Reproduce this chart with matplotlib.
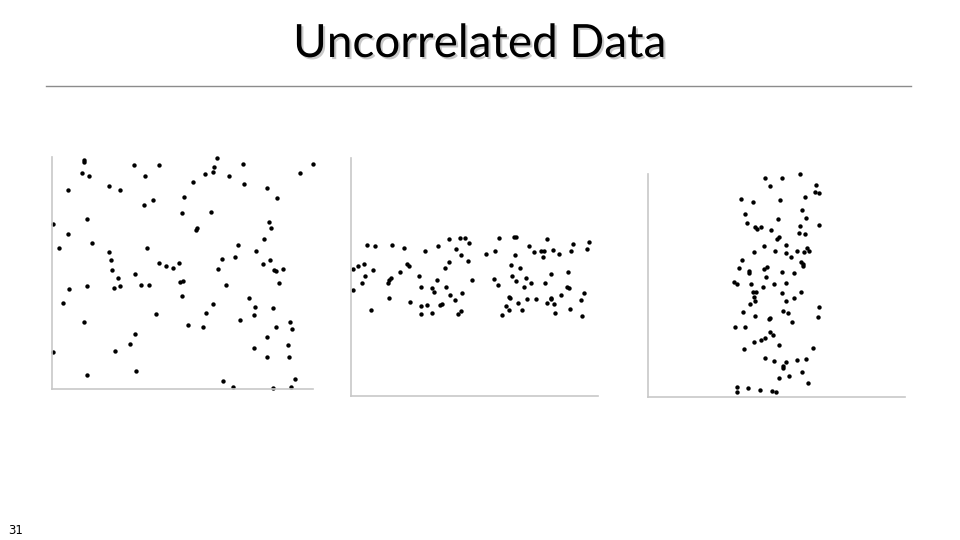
import matplotlib
matplotlib.use("Agg")
import matplotlib.pyplot as plt
from matplotlib.lines import Line2D
import matplotlib.patheffects as pe

title = "Uncorrelated Data"
page_number = "31"

# Panel 1: widely scattered
x1 = [32, 32, 81.7, 107.3, 30, 37.3, 92.7, 15.7, 57, 67.7, 132, 101.3, 91.7, 129.7, 35, 0.7,
      16.3, 40, 7.3, 95, 56.7, 59.3, 107.3, 113.7, 120.7, 127, 59.7, 82.7, 65.7, 128, 131,
      17.3, 35.3, 62.3, 67.7, 88.7, 96.7, 130, 11, 104, 32, 83, 78.3, 0.7, 63.3, 84, 35.3,
      165, 191.3, 260.7, 161.7, 161, 153.3, 177, 247.7, 140.7, 192, 214.7, 225.3, 158.7,
      217.3, 145, 144.3, 219.3, 211.7, 186, 203.7, 170, 183, 218.3, 211.3, 166, 222, 224,
      231, 227.3, 173.7, 196.7, 161.3, 203.3, 221.3, 153.7, 202, 188, 135.7, 151.3, 224,
      238, 240, 215, 235.7, 202, 214.7, 237, 243.3, 171, 181, 221.3, 239.3]
y1 = [229, 227, 224, 223.7, 216.3, 212.7, 212.7, 198.7, 203.3, 199.3, 192.3, 188.7, 183.7,
      175.7, 170.3, 165, 154.7, 145.7, 140.7, 141, 136.7, 129, 125.7, 123.3, 121.3, 126,
      118.7, 115.3, 111, 107, 108, 100, 103, 100.7, 103, 103.7, 103.7, 93, 86.3, 75.3, 67,
      54.7, 45, 36.7, 38.3, 18.3, 14,
      230.7, 225.3, 225.3, 222, 217, 215.3, 213.3, 216.3, 207, 205.3, 200.7, 191.3, 177,
      167.3, 161, 159, 160.7, 150.3, 144, 137.7, 130, 132, 129, 125, 119.7, 119.3, 118,
      119.7, 106.3, 104, 91.3, 84.7, 82, 80.7, 76, 73.7, 69.3, 63.7, 62.3, 62,
      66.7, 60.3, 52, 43.7, 41.3, 32.3, 31.7, 9.7, 8.3, 1.7, 1.3, 1.7]

# Panel 2: wide in x, narrow band in y
x2 = [16.3, 24.3, 40.7, 52.7, 2, 6.7, 13, 14.3, 22.3, 10.7, 2.3, 19.7, 37, 38.3, 39.7, 38.3,
      48.7, 56.3, 57.7, 58.7, 68, 70, 74, 69.7, 69.7, 76.3, 80.7, 80.7, 82.7, 86.3, 86.7,
      89, 91, 93.7, 95.3, 97.7, 98, 99, 104, 105, 108.7, 113.7, 109.7, 110.7, 107.3, 110,
      117, 118.3, 121,
      147.7, 163.3, 165, 195.7, 238, 236, 221.7, 220, 135, 143.7, 164.3, 177.7, 183.3, 190,
      193, 191.7, 202, 208, 159.7, 169, 161.3, 165.3, 175.3, 180, 173.3, 200, 194, 217,
      142.7, 146.7, 216.3, 218.3, 209.7, 233.3, 158, 159, 175.7, 184.7, 199.7, 200.3,
      195.7, 203.3, 167.3, 154.7, 157.7, 171.3, 230, 219, 203.7, 150.7, 230.7]
y2 = [151, 150, 151.3, 148, 127, 130.3, 132.3, 120.3, 125.7, 112.7, 105.7, 85.7, 113.3, 116,
      118, 98.3, 123.7, 131.7, 130, 93.7, 120, 109.3, 145.3, 89.7, 82, 91, 83, 107.7, 103.7,
      116.3, 149.7, 91.3, 92, 127.7, 109, 133.7, 157, 101.3, 95.7, 147.3, 158.3, 157.7,
      141.3, 102.7, 82.3, 85.3, 135.3, 152.7, 116.3,
      158, 159, 158.7, 157.3, 153.7, 147, 151.7, 144.7, 142, 144.7, 140.7, 149.7, 143.7,
      145.3, 145, 139, 146, 141.7, 131.3, 128, 119.7, 115, 118.3, 113, 109.3, 121.7, 113.3,
      123.7, 116.7, 111, 108.7, 107.7, 101, 103, 99.3, 98, 96.7, 97.3, 98.3, 97, 93, 91.7,
      92.7, 90.3, 86.3, 86.3, 95.7, 87, 83.3, 81, 80.3]

# Panel 3: narrow band in x, tall in y
x3 = [117, 122, 93, 105.3, 97, 98.7, 106.7, 109.3, 113.3, 122.7, 115.7, 105.7, 93.7, 90.7,
      101, 101.3, 116.3, 119.3, 118, 86, 89.3, 102.7, 115, 125.7, 104.7, 107.7, 106.3,
      106.7, 102.3, 94.7, 107.3, 120.7, 122, 87, 97.3, 122.3, 124.7, 113, 116.7, 105.7,
      95.7, 117, 126.3, 88.7, 88.7, 100.3, 112.3, 123.7,
      151.7, 134.3, 168.3, 166.7, 170.7, 156.7, 132, 154, 129.7, 158, 152.3, 170.7, 150.7,
      156.7, 128.7, 131, 138, 127.3, 138.3, 142.7, 148.7, 156.3, 159.3, 161.3, 153.3, 155.3,
      154.7, 134.3, 146, 137.7, 133.7, 153.3, 145.7, 138.3, 171, 169.7, 134.7, 140, 143.7,
      130.7, 164.7, 138.3, 134.7, 134.7, 149, 158.3, 153.7, 131.3, 141.3, 159.7, 128.3]
y3 = [219, 211, 197.7, 195, 182.7, 174.3, 170.3, 168, 170, 167.3, 151.3, 144.7, 137.3, 129,
      126, 123.7, 128.3, 130.3, 120, 115, 112.7, 113.3, 109.7, 112.7, 105, 104.7, 100, 96,
      93, 84.7, 81.3, 78, 79.3, 69.7, 70.3, 65.3, 62.3, 57.3, 59.3, 55, 48.3, 38.7, 36, 10,
      5, 9.3, 7, 6.3,
      223.3, 218.7, 212.3, 205.3, 204, 200, 197, 187.3, 178.3, 178.7, 171, 172, 164.3, 163,
      158, 159.7, 152.3, 145.7, 143.7, 140.3, 146, 145.3, 148.7, 146, 135.3, 132.7, 131,
      125, 124.3, 113.7, 103.7, 105, 98.7, 96, 89.7, 80, 85.7, 84.3, 75, 52, 49.3, 34.7,
      31.3, 29, 37, 38.3, 24.7, 19, 21.3, 13.7, 5]

W, H = 960, 540
fig = plt.figure(figsize=(9.6, 5.4), dpi=100)
fig.patch.set_facecolor("white")

fig.text(480 / W, 1 - 44 / H, title, ha="center", va="center", fontsize=33,
         fontweight="normal", family=["Lato", "DejaVu Sans"], color="black",
         path_effects=[pe.SimplePatchShadow(offset=(1.5, -1.5), shadow_rgbFace="#c4c4c4", alpha=0.9),
                       pe.Normal()])
fig.add_artist(Line2D([46 / W, 911 / W], [1 - 86 / H, 1 - 86 / H], transform=fig.transFigure,
                      color="#8c8c8c", lw=1))
fig.text(8 / W, 1 - 530 / H, page_number, ha="left", va="center", fontsize=8.5, color="black")

panels = [
    (x1, y1, (52, 389, 261, 232)),
    (x2, y2, (351, 396, 247, 238)),
    (x3, y3, (648, 397, 257, 223)),
]
for xs, ys, (l, b, w, h) in panels:
    ax = fig.add_axes([l / W, 1 - b / H, w / W, h / H])
    ax.scatter(xs, ys, s=10, c="black", linewidths=0, clip_on=False)
    ax.set_xlim(0, w)
    ax.set_ylim(0, h)
    for s in ("top", "right"):
        ax.spines[s].set_visible(False)
    for s in ("left", "bottom"):
        ax.spines[s].set_color("#c8c8c8")
        ax.spines[s].set_linewidth(1.2)
    ax.set_xticks([])
    ax.set_yticks([])

fig.savefig("out.png", dpi=100)
